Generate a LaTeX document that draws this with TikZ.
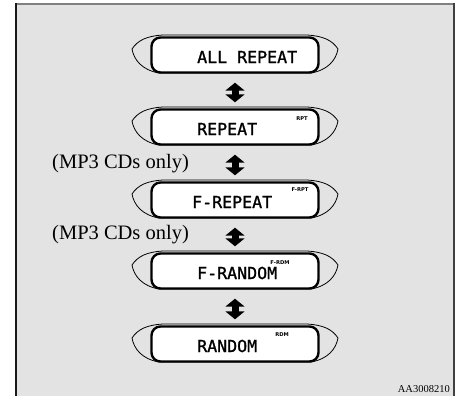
\documentclass[tikz,border=0pt]{standalone}
\usepackage{fontspec}
\setmainfont{Liberation Serif}
\newfontfamily\lcdfont{DejaVu Sans Mono}[FakeBold=1.2]
\newfontfamily\indfont{DejaVu Sans}
\usetikzlibrary{arrows.meta}
\definecolor{bg}{HTML}{E3E3E3}
\tikzset{
  bezel/.style={draw=black, line width=0.8, fill=bg},
  lcdbox/.style={draw=black, line width=2.4, fill=white, rounded corners=9,
    minimum width=167, minimum height=35, inner sep=0},
  lcdtext/.style={inner sep=0, anchor=west, font=\lcdfont\fontsize{16.6}{18}\selectfont},
  indtext/.style={inner sep=0, font=\indfont\bfseries\fontsize{5.2}{6}\selectfont},
  note/.style={inner sep=0, anchor=base west, font=\fontsize{20.5}{22}\selectfont},
  dbl/.style={line width=7, {Triangle[width=19,length=8]}-{Triangle[width=19,length=8]},
    shorten <=9, shorten >=6},
}
\newcommand\drawlcd[2]{%
  \begin{scope}[shift={(235,#2)}]
    \draw[bezel] (-103,-6) .. controls (-97,-15) and (-88,-19) .. (-72,-20)
      -- (72,-20) .. controls (88,-19) and (97,-15) .. (103,-6)
      .. controls (101,5) and (93,15) .. (76,18) -- (-76,18)
      .. controls (-93,15) and (-101,5) .. (-103,-6) -- cycle;
    \node[lcdbox] (#1) at (0,0) {};
  \end{scope}}
\begin{document}
\begin{tikzpicture}[x=1pt,y=-1pt]
  \useasboundingbox (0,0) rectangle (456,396);
  \fill[white] (0,0) rectangle (456,396);
  \fill[bg] (16,4) rectangle (454,400);
  \draw[line width=1.4, gray] (16,4) -- (454,4);
  \draw[line width=2, black!90] (16,3.3) -- (16,400);
  \draw[line width=1.6, black!75] (454,3.3) -- (454,400);

  \drawlcd{d1}{55}
  \drawlcd{d2}{127}
  \drawlcd{d3}{200}
  \drawlcd{d4}{271}
  \drawlcd{d5}{344}

  \node[lcdtext] (t1) at (197,57) {ALL REPEAT};
  \node[lcdtext] (t2) at (197,129) {REPEAT};
  \node[lcdtext] (t3) at (192,202) {F-REPEAT};
  \node[lcdtext] (t4) at (197,273) {F-RANDOM};
  \node[lcdtext] (t5) at (197,346) {RANDOM};

  \node[indtext] (r2) at (302,119) {RPT};
  \node[indtext] (r3) at (300,190) {F-RPT};
  \node[indtext] (r4) at (280,263) {F-RDM};
  \node[indtext] (r5) at (282,335) {RDM};

  \draw[dbl] (d1) -- (d2);
  \draw[dbl] (d2) -- (d3);
  \draw[dbl] (d3) -- (d4);
  \draw[dbl] (d4) -- (d5);

  \node[note] (m1) at (52,168) {(MP3 CDs only)};
  \node[note] (m2) at (52,239) {(MP3 CDs only)};

  \node[inner sep=0, anchor=base east, font=\fontsize{10.5}{12}\selectfont] (code) at (450,392) {AA3008210};
\end{tikzpicture}
\end{document}
